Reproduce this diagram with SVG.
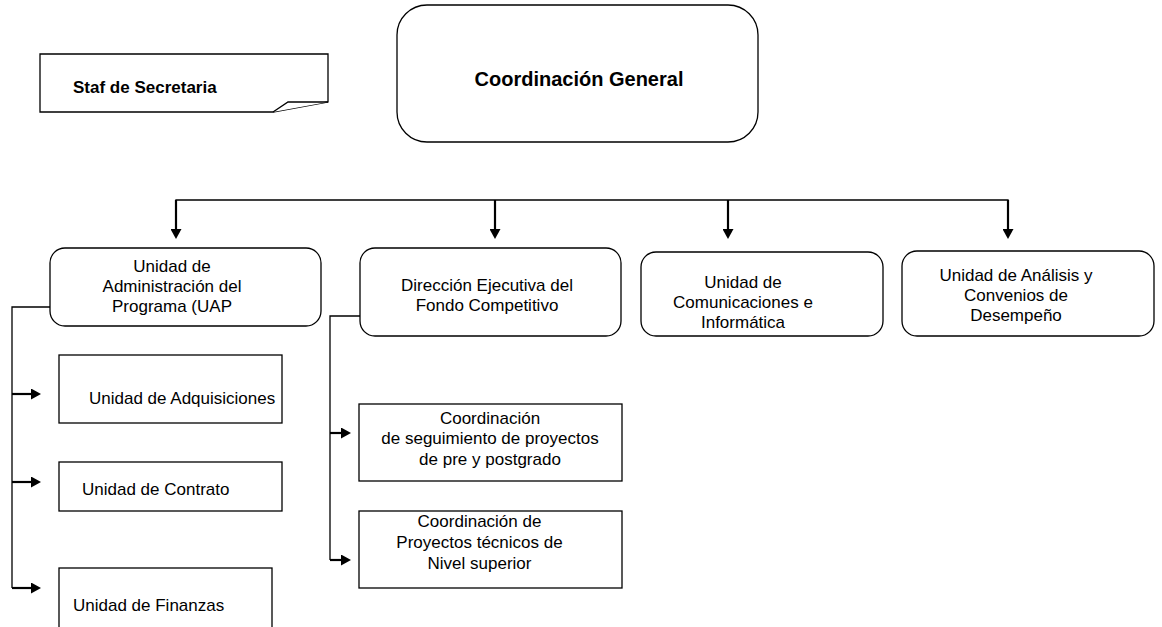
<svg xmlns="http://www.w3.org/2000/svg" width="1162" height="627" viewBox="0 0 1162 627">
<style>
  .box { fill: #fff; stroke: #000; stroke-width: 1.3; }
  .t { font-family: "Liberation Sans", Arial, sans-serif; font-size: 17px; fill: #000; }
  .tb { font-family: "Liberation Sans", Arial, sans-serif; font-weight: bold; fill: #000; }
  .bus { fill: none; stroke: #000; stroke-width: 1.3; }
  .arr { fill: none; stroke: #000; stroke-width: 2.2; }
</style>
<defs>
  <marker id="ah" viewBox="0 0 10 11" refX="0" refY="5.5" markerWidth="10" markerHeight="11" orient="auto" markerUnits="userSpaceOnUse">
    <path d="M0,0 L10,5.5 L0,11 z" fill="#000"/>
  </marker>
</defs>
<rect width="1162" height="627" fill="#fff"/>

<g id="connectors">
  <polyline class="bus" points="176,229 176,200 1008,200 1008,229"/>
  <line class="arr" x1="176" y1="200" x2="176" y2="229" marker-end="url(#ah)"/>
  <line class="arr" x1="495" y1="200" x2="495" y2="229" marker-end="url(#ah)"/>
  <line class="arr" x1="728" y1="200" x2="728" y2="229" marker-end="url(#ah)"/>
  <line class="arr" x1="1008" y1="200" x2="1008" y2="229" marker-end="url(#ah)"/>
  <polyline class="bus" points="50,307 12,307 12,588"/>
  <line class="arr" x1="12" y1="394" x2="31" y2="394" marker-end="url(#ah)"/>
  <line class="arr" x1="12" y1="482" x2="31" y2="482" marker-end="url(#ah)"/>
  <line class="arr" x1="12" y1="588" x2="31" y2="588" marker-end="url(#ah)"/>
  <polyline class="bus" points="360,316 330,316 330,560"/>
  <line class="arr" x1="330" y1="433" x2="341" y2="433" marker-end="url(#ah)"/>
  <line class="arr" x1="330" y1="560" x2="341" y2="560" marker-end="url(#ah)"/>
</g>

<g id="staf">
  <polygon class="box" points="40,54 328,54 328,102 273,112 40,112"/>
  <polyline class="box" points="273,112 288,102 328,102"/>
  <text class="tb" x="73" y="93" font-size="17">Staf de Secretaria</text>
</g>

<g id="coordinacion-general">
  <rect class="box" x="397" y="5" width="361" height="137" rx="30" ry="30"/>
  <text class="tb" x="579" y="86" font-size="20" text-anchor="middle">Coordinación General</text>
</g>

<g id="uap">
  <rect class="box" x="50" y="248" width="271" height="78" rx="15" ry="15"/>
  <text class="t" text-anchor="middle"><tspan x="172" y="272">Unidad de</tspan><tspan x="172" y="292">Administración del</tspan><tspan x="172" y="312">Programa (UAP</tspan></text>
</g>

<g id="direccion">
  <rect class="box" x="360" y="248" width="261" height="88" rx="15" ry="15"/>
  <text class="t" text-anchor="middle"><tspan x="487" y="291">Dirección Ejecutiva del</tspan><tspan x="487" y="311">Fondo Competitivo</tspan></text>
</g>

<g id="comunicaciones">
  <rect class="box" x="641" y="252" width="242" height="84" rx="15" ry="15"/>
  <text class="t" text-anchor="middle"><tspan x="743" y="288">Unidad de</tspan><tspan x="743" y="308">Comunicaciones e</tspan><tspan x="743" y="328">Informática</tspan></text>
</g>

<g id="analisis">
  <rect class="box" x="902" y="251" width="252" height="85" rx="15" ry="15"/>
  <text class="t" text-anchor="middle"><tspan x="1016" y="281">Unidad de Análisis y</tspan><tspan x="1016" y="301">Convenios de</tspan><tspan x="1016" y="321">Desempeño</tspan></text>
</g>

<g id="adquisiciones">
  <rect class="box" x="59" y="355" width="223" height="68"/>
  <text class="t" x="89" y="404">Unidad de Adquisiciones</text>
</g>

<g id="contrato">
  <rect class="box" x="59" y="462" width="223" height="49"/>
  <text class="t" x="82" y="495">Unidad de Contrato</text>
</g>

<g id="finanzas">
  <rect class="box" x="59" y="568" width="213" height="80"/>
  <text class="t" x="73" y="611">Unidad de Finanzas</text>
</g>

<g id="seguimiento">
  <rect class="box" x="359" y="404" width="263" height="77"/>
  <text class="t" text-anchor="middle"><tspan x="490" y="424">Coordinación</tspan><tspan x="490" y="444">de seguimiento de proyectos</tspan><tspan x="490" y="465">de pre y postgrado</tspan></text>
</g>

<g id="nivel-superior">
  <rect class="box" x="359" y="511" width="263" height="77"/>
  <text class="t" text-anchor="middle"><tspan x="479.5" y="527">Coordinación de</tspan><tspan x="479.5" y="548">Proyectos técnicos de</tspan><tspan x="479.5" y="569">Nivel superior</tspan></text>
</g>
</svg>
